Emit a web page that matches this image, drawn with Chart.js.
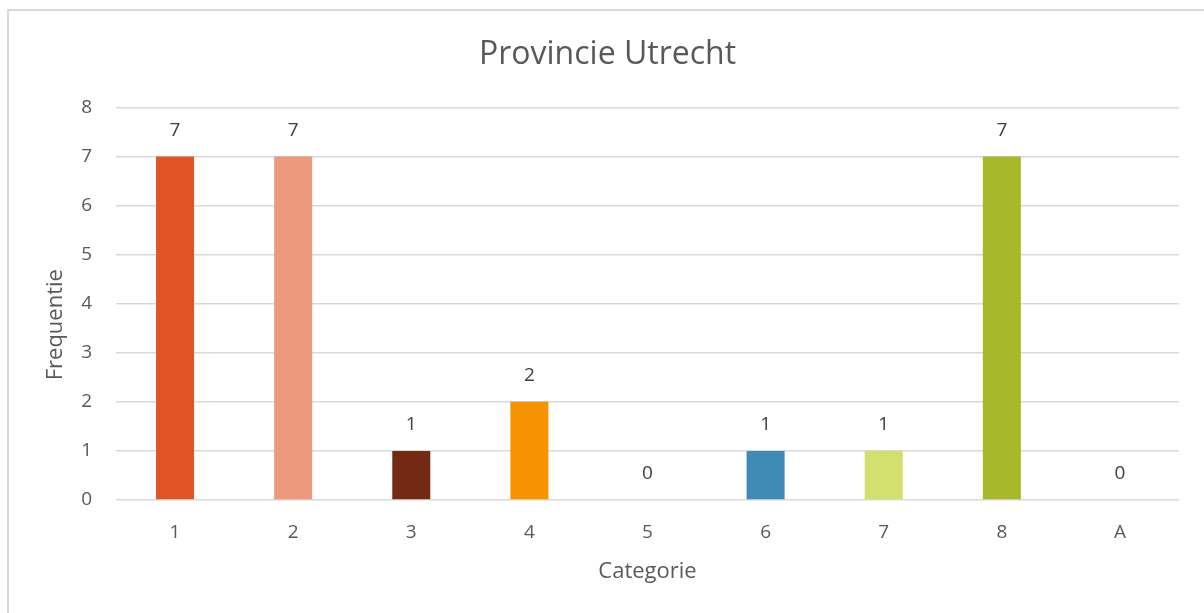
<!DOCTYPE html>
<html>
<head>
<meta charset="utf-8">
<script src="https://cdn.jsdelivr.net/npm/chart.js@4.4.1/dist/chart.umd.min.js"></script>
<style>
  html, body { margin: 0; padding: 0; background: #fff; overflow: hidden; }
  #wrap { position: relative; width: 1204px; height: 613px; }
  #frame { position: absolute; left: 7px; top: 9px; width: 1300px; height: 700px; border: 2px solid #d9d9d9; box-sizing: border-box; }
  canvas { position: absolute; left: 0; top: 0; }
</style>
</head>
<body>
<div id="wrap">
  <div id="frame"></div>
  <canvas id="chart" width="1204" height="613"></canvas>
</div>
<script>
const categories = ["1", "2", "3", "4", "5", "6", "7", "8", "A"];
const frequencies = [7, 7, 1, 2, 0, 1, 1, 7, 0];
const barColors = ["#e05426", "#ec997d", "#732913", "#f59300", "#a5a5a5", "#3f8bb6", "#d3e06e", "#a8b828", "#5b9bd5"];
const yTicks = [0, 1, 2, 3, 4, 5, 6, 7, 8];

const FONT = "'Open Sans', sans-serif";

// value labels above each bar
const barValueLabels = {
  id: "barValueLabels",
  afterDatasetsDraw(chart) {
    const ctx = chart.ctx;
    const meta = chart.getDatasetMeta(0);
    ctx.save();
    ctx.font = "19px " + FONT;
    ctx.fillStyle = "#404040";
    ctx.textAlign = "center";
    ctx.textBaseline = "middle";
    meta.data.forEach((bar, i) => {
      ctx.fillText(String(frequencies[i]), bar.x, bar.y - 26);
    });
    ctx.restore();
  },
};

// y axis title, sits a bit below the middle of the plot like in Excel
const yAxisTitle = {
  id: "yAxisTitle",
  afterDraw(chart) {
    const ctx = chart.ctx;
    const area = chart.chartArea;
    ctx.save();
    ctx.translate(56, (area.top + area.bottom) / 2 + 21);
    ctx.rotate(-Math.PI / 2);
    ctx.font = "22px " + FONT;
    ctx.fillStyle = "#595959";
    ctx.textAlign = "center";
    ctx.textBaseline = "middle";
    ctx.fillText("Frequentie", 0, 0);
    ctx.restore();
  },
};

new Chart(document.getElementById("chart").getContext("2d"), {
  type: "bar",
  data: {
    labels: categories,
    datasets: [
      {
        data: frequencies,
        backgroundColor: barColors,
        borderWidth: 0,
        categoryPercentage: 1,
        barPercentage: 0.322,
      },
    ],
  },
  options: {
    responsive: false,
    animation: false,
    layout: { padding: { left: 36, right: 25, top: 0, bottom: 0 } },
    plugins: {
      legend: { display: false },
      tooltip: { enabled: false },
      title: {
        display: true,
        text: "Provincie Utrecht",
        color: "#595959",
        font: { family: FONT, size: 32, weight: "normal" },
        padding: { top: 36, bottom: 33 },
      },
    },
    scales: {
      x: {
        grid: { display: false, drawTicks: false },
        border: { display: false },
        ticks: { color: "#595959", font: { family: FONT, size: 19 }, padding: 21 },
        title: {
          display: true,
          text: "Categorie",
          color: "#595959",
          font: { family: FONT, size: 22 },
          padding: { top: 0, bottom: 28 },
        },
        afterFit(scale) { scale.height = 113; },
      },
      y: {
        min: 0,
        max: 8,
        afterBuildTicks(scale) { scale.ticks = yTicks.map(v => ({ value: v })); },
        grid: { color: "#d9d9d9", lineWidth: 1.5, drawTicks: false },
        border: { display: false },
        ticks: { color: "#595959", font: { family: FONT, size: 19 }, padding: 24 },
        afterFit(scale) { scale.width = 80; },
      },
    },
  },
  plugins: [barValueLabels, yAxisTitle],
});
</script>
</body>
</html>
